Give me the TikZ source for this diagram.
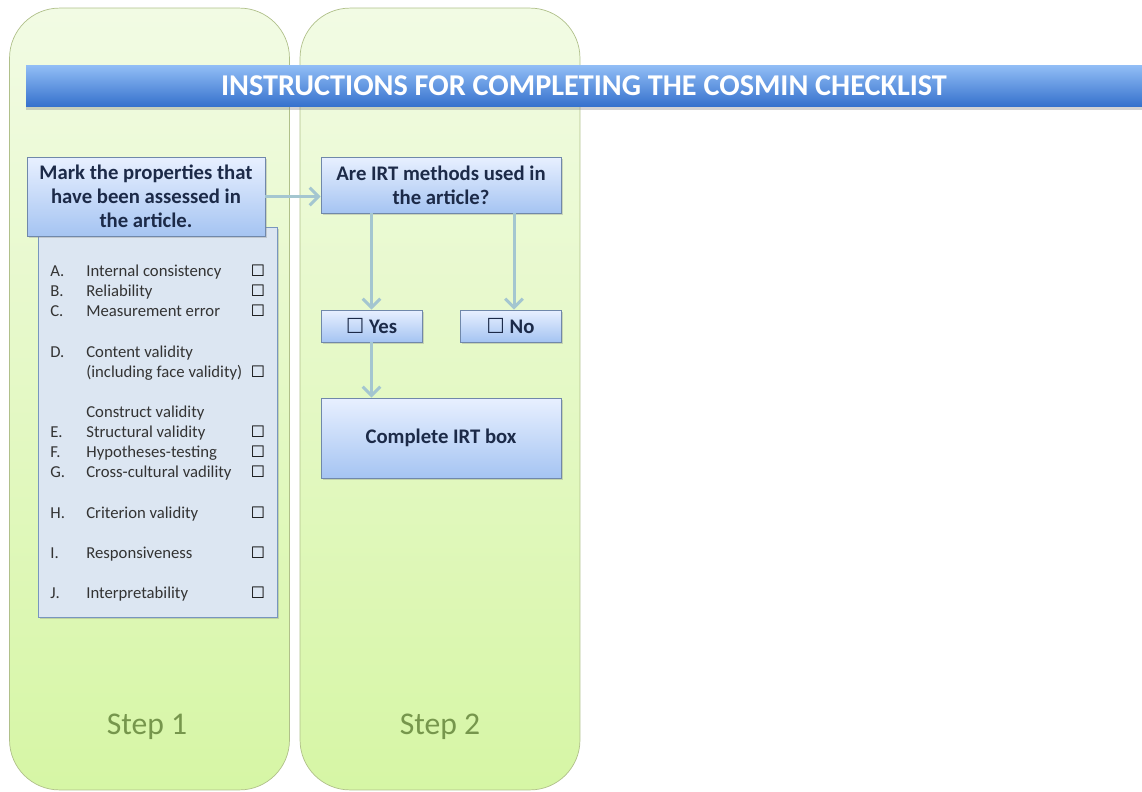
\documentclass[tikz,border=0pt]{standalone}
\usepackage{fontspec}
\setmainfont{Carlito}
\newfontfamily\boxfont{DejaVu Sans}
\usepackage{tikz}
\usetikzlibrary{%
        arrows.meta,
        shadows
    }
\definecolor{paneltop}{RGB}{242, 251, 228}
\definecolor{panelbot}{RGB}{214, 246, 165}
\definecolor{panelline}{RGB}{176, 192, 138}
\definecolor{steptext}{RGB}{118, 150, 76}
\definecolor{boxtop}{RGB}{232, 240, 255}
\definecolor{boxbot}{RGB}{165, 196, 242}
\definecolor{boxline}{RGB}{112, 136, 170}
\definecolor{navy}{RGB}{28, 42, 72}
\definecolor{bantop}{RGB}{146, 190, 246}
\definecolor{banbot}{RGB}{52, 112, 204}
\definecolor{listfill}{RGB}{220, 230, 242}
\definecolor{listline}{RGB}{120, 150, 190}
\definecolor{linkcol}{RGB}{164, 198, 208}
\tikzset{%
    panel/.style={%
        draw=panelline,
        top color=paneltop,
        bottom color=panelbot,
        rounded corners=1cm,
        minimum width=5.6cm,
        minimum height=15.64cm
    },
    flowbox/.style={%
        draw=boxline,
        top color=boxtop,
        bottom color=boxbot,
        text=navy,
        font=\fontsize{11.8}{13.6}\selectfont\bfseries,
        align=center,
        drop shadow={opacity=0.3, shadow xshift=1pt, shadow yshift=-1.2pt}
    },
    link/.style={%
        draw=linkcol,
        line width=1.7pt,
        -{Straight Barb[length=5pt, width=10pt]}
    },
    item/.style={%
        anchor=base west,
        inner sep=0pt,
        text=black!80,
        font=\fontsize{9.5}{11}\selectfont
    },
    chk/.style={%
        anchor=base,
        inner sep=0pt,
        font=\boxfont\fontsize{9}{10}\selectfont
    },
    steplabel/.style={%
        text=steptext,
        font=\fontsize{18}{21}\selectfont
    }
}

\begin{document}
\begin{tikzpicture}[x=0.02cm, y=-0.02cm]

    \useasboundingbox (0, 0) rectangle (1142, 791);

    % Step panels
    \node[panel] (panel1) at (149.5, 399) {};
    \node[panel] (panel2) at (440, 399) {};
    \node[steplabel] (step1) at (147, 727) {Step 1};
    \node[steplabel] (step2) at (440, 727) {Step 2};

    % Title banner
    \node[%
        top color=bantop,
        bottom color=banbot,
        minimum width=22.32cm,
        minimum height=0.84cm,
        text=white,
        font=\fontsize{17.2}{20}\selectfont\bfseries,
        drop shadow={opacity=0.35, shadow xshift=0pt, shadow yshift=-1.5pt}
    ] (banner) at (584, 86)
        {INSTRUCTIONS FOR COMPLETING THE COSMIN CHECKLIST};

    % List of properties
    \node[%
        draw=listline,
        fill=listfill,
        minimum width=4.78cm,
        minimum height=7.8cm,
        drop shadow={opacity=0.3, shadow xshift=1pt, shadow yshift=-1.2pt}
    ] (list) at (157.5, 422) {};

    \node[flowbox, minimum width=4.76cm, minimum height=1.58cm] (mark)
        at (146, 196.5)
        {Mark the properties that\\ have been assessed in\\ the article.};

    \foreach \y/\ltr/\txt in {276/A/Internal consistency,
                              296/B/Reliability,
                              316/C/Measurement error,
                              437/E/Structural validity,
                              457/F/Hypotheses-testing,
                              477/G/Cross-cultural vadility,
                              518/H/Criterion validity,
                              558/I/Responsiveness,
                              598/J/Interpretability}{%
        \node[item] (ltr-\ltr) at (50, \y) {\ltr.};
        \node[item] (txt-\ltr) at (86, \y) {\txt};
        \node[chk] (chk-\ltr) at (258, \y) {☐};
    };
    \node[item] (ltr-D) at (50, 357) {D.};
    \node[item] (txt-D) at (86, 357) {Content validity};
    \node[item] (txt-D2) at (86, 377) {(including face validity)};
    \node[chk] (chk-D) at (258, 377) {☐};
    \node[item] (construct) at (86, 417) {Construct validity};

    % Step two flow
    \node[flowbox, minimum width=4.8cm, minimum height=1.12cm] (irt)
        at (441, 185) {Are IRT methods used in\\ the article?};
    \node[flowbox, minimum width=2.02cm, minimum height=0.64cm] (yes)
        at (371.5, 326) {{\boxfont\mdseries ☐} Yes};
    \node[flowbox, minimum width=2.02cm, minimum height=0.64cm] (no)
        at (510.5, 326) {{\boxfont\mdseries ☐} No};
    \node[flowbox, minimum width=4.8cm, minimum height=1.6cm] (complete)
        at (441, 438) {Complete IRT box};

    % Connecting up
    \draw[link] (mark.east) -- (mark.east -| irt.west);
    \draw[link] (yes.north |- irt.south) -- (yes.north);
    \draw[link] ([xshift=2pt] no.north |- irt.south) -- ([xshift=2pt] no.north);
    \draw[link] (yes.south) -- (yes.south |- complete.north);

\end{tikzpicture}
\end{document}
